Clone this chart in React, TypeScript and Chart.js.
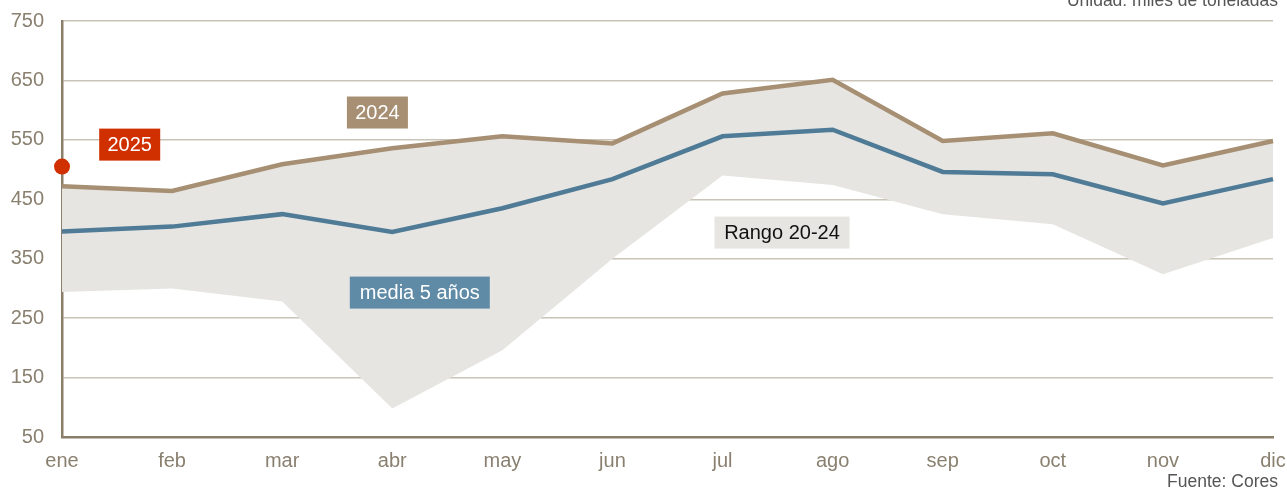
import React, { useEffect, useRef } from "react";
import { Chart, registerables } from "chart.js";

Chart.register(...registerables);

const months = ["ene", "feb", "mar", "abr", "may", "jun", "jul", "ago", "sep", "oct", "nov", "dic"];
const yTicks = [50, 150, 250, 350, 450, 550, 650, 750];
const serie2024 = [472, 464, 509, 536, 556, 544, 628, 651, 548, 561, 507, 548];
const media5 = [396, 404, 425, 395, 435, 484, 556, 567, 496, 492, 443, 484];
const rangoMax = [472, 464, 509, 536, 556, 544, 628, 651, 548, 561, 507, 548];
const rangoMin = [294, 300, 278, 98, 196, 350, 490, 474, 425, 408, 324, 385];
const serie2025 = [505, null, null, null, null, null, null, null, null, null, null, null];

const TAN = "#a68f72";
const BLUE = "#4f7b97";
const BLUE_BOX = "#5f8ba7";
const RED = "#d02f00";
const SHADE = "#e6e5e1";
const AXIS = "#8c7f6a";
const GRID = "#c9c4b7";
const TICK = "#8a8070";
const FONT = "'Liberation Sans', Arial, sans-serif";

const labelsPlugin = {
  id: "labelsPlugin",
  afterDraw(chart: any) {
    const ctx = chart.ctx;
    const x = chart.scales.x;
    const y = chart.scales.y;
    const box = (text: string, cx: number, cy: number, w: number, h: number, bg: string, fg: string) => {
      ctx.save();
      ctx.fillStyle = bg;
      ctx.fillRect(cx - w / 2, cy - h / 2, w, h);
      ctx.fillStyle = fg;
      ctx.font = `20px ${FONT}`;
      ctx.textAlign = "center";
      ctx.textBaseline = "middle";
      ctx.fillText(text, cx, cy + 1);
      ctx.restore();
    };
    const px = (i: number) => x.getPixelForValue(i);
    box("2025", px(0.615), y.getPixelForValue(542), 61, 32, RED, "#ffffff");
    box("2024", px(2.865), y.getPixelForValue(596), 61, 32, TAN, "#ffffff");
    box("media 5 años", px(3.25), y.getPixelForValue(293), 140, 32, BLUE_BOX, "#ffffff");
    box("Rango 20-24", px(6.54), y.getPixelForValue(394), 135, 32, SHADE, "#111111");

    ctx.save();
    ctx.font = `17.5px ${FONT}`;
    ctx.fillStyle = "#555555";
    ctx.textAlign = "right";
    ctx.textBaseline = "alphabetic";
    ctx.fillText("Unidad: miles de toneladas", 1278, 6);
    ctx.fillText("Fuente: Cores", 1278, 487);
    ctx.restore();
  },
};

export default function App() {
  const ref = useRef<HTMLCanvasElement | null>(null);
  useEffect(() => {
    if (!ref.current) return;
    const chart = new Chart(ref.current, {
      type: "line",
      data: {
        labels: months,
        datasets: [
          {
            label: "2025",
            data: serie2025,
            showLine: false,
            pointRadius: 8,
            pointBackgroundColor: RED,
            pointBorderWidth: 0,
            borderColor: RED,
            order: 0,
          },
          {
            label: "2024",
            data: serie2024,
            borderColor: TAN,
            borderWidth: 4.5,
            pointRadius: 0,
            tension: 0,
            fill: false,
            order: 1,
          },
          {
            label: "media 5 años",
            data: media5,
            borderColor: BLUE,
            borderWidth: 4.5,
            pointRadius: 0,
            tension: 0,
            fill: false,
            order: 2,
          },
          {
            label: "min",
            data: rangoMin,
            borderWidth: 0,
            borderColor: "rgba(0,0,0,0)",
            pointRadius: 0,
            tension: 0,
            fill: false,
            order: 10,
          },
          {
            label: "Rango 20-24",
            data: rangoMax,
            borderWidth: 0,
            borderColor: "rgba(0,0,0,0)",
            backgroundColor: SHADE,
            pointRadius: 0,
            tension: 0,
            fill: "-1",
            order: 9,
          },
        ],
      },
      options: {
        responsive: false,
        animation: false,
        layout: { padding: { top: 21, right: 14, left: 0, bottom: 0 } },
        plugins: { legend: { display: false }, tooltip: { enabled: false } },
        scales: {
          x: {
            type: "category",
            offset: false,
            grid: { display: false, drawTicks: false },
            border: { display: true, color: AXIS, width: 2.5 },
            ticks: { color: TICK, font: { size: 20, family: FONT }, padding: 12, maxRotation: 0, autoSkip: false },
            afterFit: (s: any) => {
              s.height = 53;
              s.paddingLeft = 0;
              s.paddingRight = 0;
            },
          },
          y: {
            min: 50,
            max: 750,
            afterBuildTicks: (s: any) => {
              s.ticks = yTicks.map((v) => ({ value: v }));
            },
            grid: { color: GRID, lineWidth: 1.5, drawTicks: false },
            border: { display: true, color: AXIS, width: 2.5 },
            ticks: { color: TICK, font: { size: 20, family: FONT }, padding: 18 },
            afterFit: (s: any) => {
              s.width = 62;
              s.paddingTop = 0;
              s.paddingBottom = 0;
            },
          },
        },
      },
      plugins: [labelsPlugin],
    } as any);
    return () => chart.destroy();
  }, []);
  return (
    <div style={{ position: "absolute", left: 0, top: 0, width: 1287, height: 490, background: "#fff" }}>
      <canvas ref={ref} width={1287} height={490} style={{ width: 1287, height: 490, display: "block" }} />
    </div>
  );
}
